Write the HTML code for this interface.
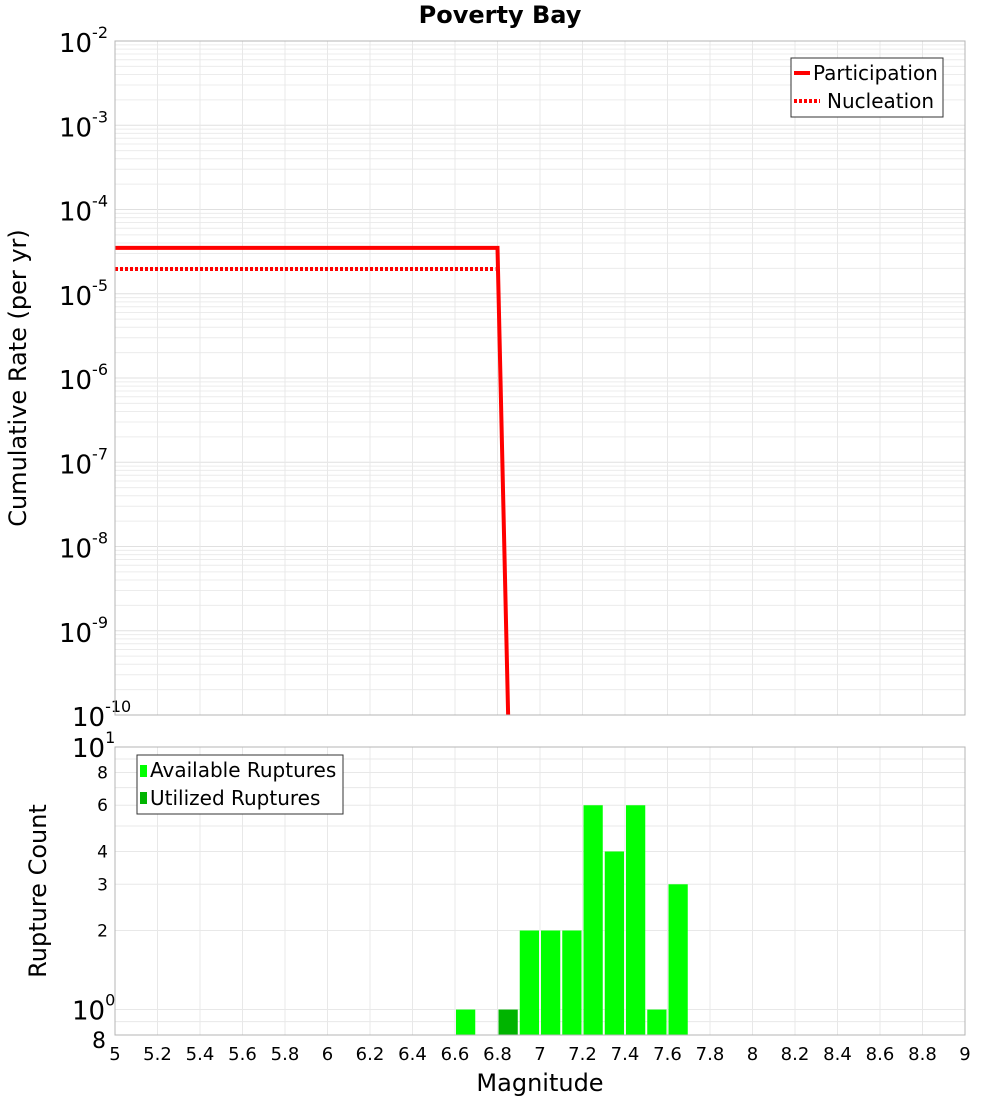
<!DOCTYPE html>
<html><head><meta charset="utf-8"><style>
body{margin:0;background:#fff;font-family:"DejaVu Sans","Liberation Sans",sans-serif;}
svg text{font-family:"DejaVu Sans","Liberation Sans",sans-serif;}
</style></head><body>
<svg id="chart" width="1000" height="1100" xmlns="http://www.w3.org/2000/svg"></svg>
<script>
const partMags=[5.0,6.8,6.85];
const partRates=[3.5e-5,3.5e-5,1e-10];
const nuclMags=[5.0,6.79];
const nuclRates=[1.97e-5,1.97e-5];
const binCenters=[6.65,6.85,6.95,7.05,7.15,7.25,7.35,7.45,7.55,7.65];
const availCounts=[1,1,2,2,2,6,4,6,1,3];
const utilizedFlags=[0,1,0,0,0,0,0,0,0,0];
const xTicks=[5,5.2,5.4,5.6,5.8,6,6.2,6.4,6.6,6.8,7,7.2,7.4,7.6,7.8,8,8.2,8.4,8.6,8.8,9];
const yExps=[-2,-3,-4,-5,-6,-7,-8,-9,-10];
const cTicks=[8,6,4,3,2];

const svg=document.getElementById('chart');
const NS='http://www.w3.org/2000/svg';
function mk(tag,attrs,parent){const e=document.createElementNS(NS,tag);for(const k in attrs)e.setAttribute(k,attrs[k]);(parent||svg).appendChild(e);return e;}
const L=115,R=965,T1=41,B1=715,T2=747,B2=1035;
const x=m=>L+(m-5)/4*(R-L);
const y1=v=>T1+(-2-Math.log10(v))/8*(B1-T1);
const y2=v=>T2+(1-Math.log10(v))/(1-Math.log10(0.8))*(B2-T2);

let t=mk('text',{x:500,y:23,'text-anchor':'middle','font-size':24,'font-weight':'bold'});
t.textContent='Poverty Bay';



const g1=mk('g',{});


for(let e=-10;e<-2;e++)for(let k=2;k<10;k++){const yy=y1(k*Math.pow(10,e));mk('line',{x1:L,x2:R,y1:yy,y2:yy,stroke:'#ececec'},g1);}
yExps.forEach(e=>{const yy=y1(Math.pow(10,e));mk('line',{x1:L,x2:R,y1:yy,y2:yy,stroke:'#e0e0e0'},g1);});
xTicks.forEach(m=>mk('line',{x1:x(m),x2:x(m),y1:T1,y2:B1,stroke:'#e8e8e8'},g1));
const g2=mk('g',{});


[0.9,1,2,3,4,5,6,7,8,9].forEach(v=>{const yy=y2(v);mk('line',{x1:L,x2:R,y1:yy,y2:yy,stroke:'#e8e8e8'},g2);});
xTicks.forEach(m=>mk('line',{x1:x(m),x2:x(m),y1:T2,y2:B2,stroke:'#e8e8e8'},g2));

yExps.forEach(e=>{const yy=y1(Math.pow(10,e));
 const tx=mk('text',{x:108,y:yy+11,'text-anchor':'end','font-size':26});
 
 
 tx.innerHTML='10<tspan dy="-14" font-size="16">'+e+'</tspan>';
 if(e==-10){tx.setAttribute('x',72);tx.setAttribute('text-anchor','start');}
});
let tb=mk('text',{x:72,y:y2(10)+10,'font-size':26});
tb.innerHTML='10<tspan dy="-14" font-size="16">1</tspan>';


tb=mk('text',{x:72,y:y2(1)+10,'font-size':26});
tb.innerHTML='10<tspan dy="-14" font-size="16">0</tspan>';


cTicks.forEach(v=>{const tx=mk('text',{x:108,y:y2(v)+6,'text-anchor':'end','font-size':17});tx.textContent=v;
 
 });
tb=mk('text',{x:106,y:B2+13,'text-anchor':'end','font-size':22});tb.textContent='8';



xTicks.forEach(m=>{const tx=mk('text',{x:x(m),y:1060,'text-anchor':'middle','font-size':18});tx.textContent=String(m);
 
 });

t=mk('text',{x:540,y:1091,'text-anchor':'middle','font-size':24});t.textContent='Magnitude';


t=mk('text',{x:0,y:0,'text-anchor':'middle','font-size':24,transform:'translate(26,378) rotate(-90)'});t.textContent='Cumulative Rate (per yr)';


t=mk('text',{x:0,y:0,'text-anchor':'middle','font-size':24,transform:'translate(46,891) rotate(-90)'});t.textContent='Rupture Count';



binCenters.forEach((c,i)=>{const v=availCounts[i];const r=mk('rect',{x:x(c-0.05)+1,y:y2(v),width:x(c+0.05)-x(c-0.05)-2,height:B2-y2(v),fill:utilizedFlags[i]?'#00b400':'#00ff00'});
 
 });

const clip=mk('clipPath',{id:'c1'});mk('rect',{x:L,y:T1,width:R-L,height:B1-T1+8},clip);
let p=mk('polyline',{points:partMags.map((m,i)=>x(m)+','+y1(partRates[i])).join(' '),fill:'none',stroke:'#ff0000','stroke-width':4,'clip-path':'url(#c1)'});


p=mk('polyline',{points:nuclMags.map((m,i)=>x(m)+','+y1(nuclRates[i])).join(' '),fill:'none',stroke:'#ff0000','stroke-width':4,'stroke-dasharray':'3,2'});



let f=mk('rect',{x:L,y:T1,width:R-L,height:B1-T1,fill:'none',stroke:'#b4b4b4'});

f=mk('rect',{x:L,y:T2,width:R-L,height:B2-T2,fill:'none',stroke:'#b4b4b4'});


const lg=mk('g',{});

mk('rect',{x:791,y:58,width:152,height:59,fill:'#fff',stroke:'#333'},lg);
mk('line',{x1:794,x2:810,y1:73,y2:73,stroke:'#f00','stroke-width':4},lg);
mk('line',{x1:794,x2:820,y1:101,y2:101,stroke:'#f00','stroke-width':4,'stroke-dasharray':'3,2'},lg);
t=mk('text',{x:813,y:80,'font-size':20},lg);t.textContent='Participation';

t=mk('text',{x:827,y:108,'font-size':20},lg);t.textContent='Nucleation';

const lg2=mk('g',{});

mk('rect',{x:137,y:755,width:206,height:59,fill:'#fff',stroke:'#333'},lg2);
mk('rect',{x:140,y:765,width:7,height:12,fill:'#00ff00'},lg2);
mk('rect',{x:140,y:792,width:7,height:12,fill:'#00b400'},lg2);
t=mk('text',{x:150,y:777,'font-size':20},lg2);t.textContent='Available Ruptures';

t=mk('text',{x:150,y:805,'font-size':20},lg2);t.textContent='Utilized Ruptures';

</script>
</body></html>
